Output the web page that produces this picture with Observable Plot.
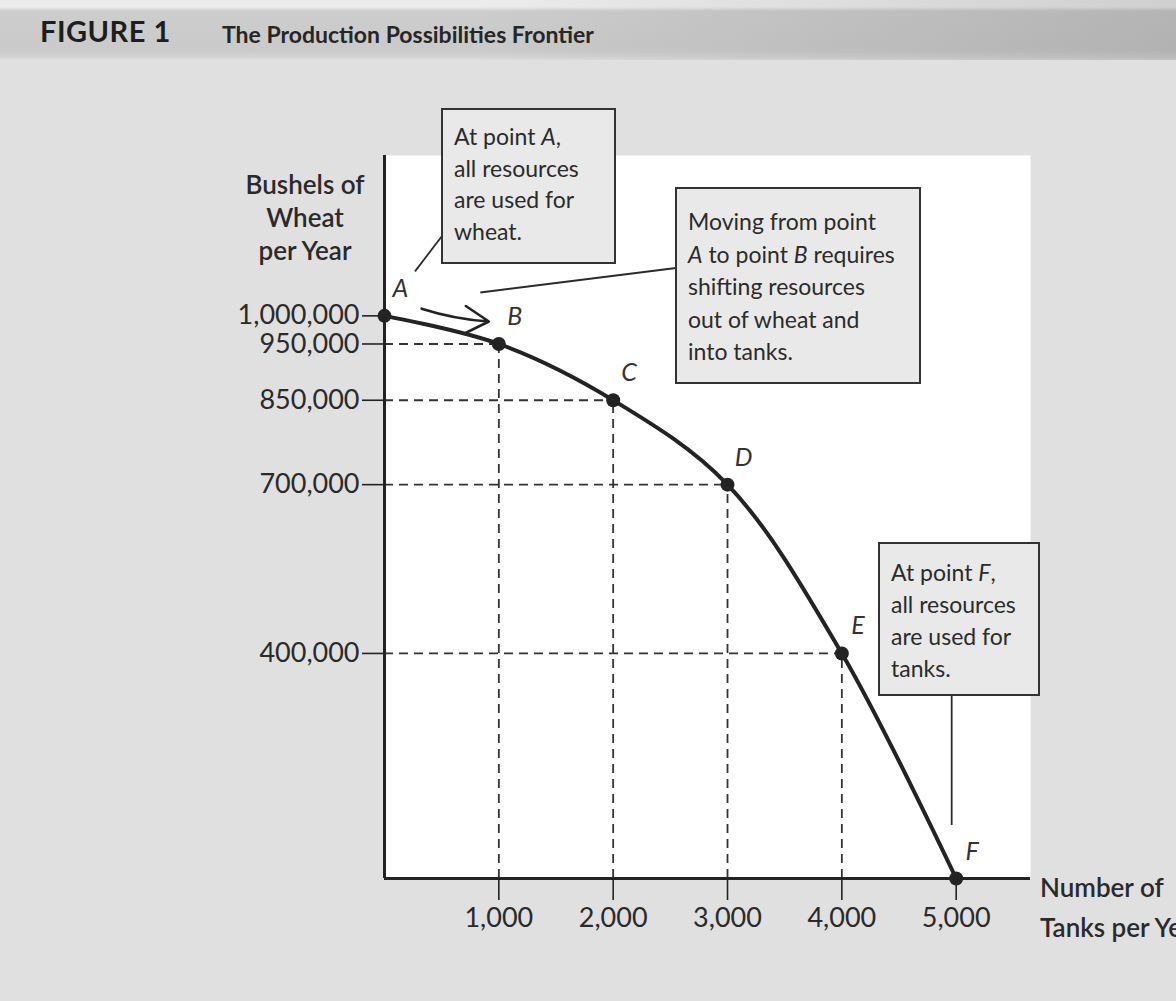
<!DOCTYPE html>
<html><head><meta charset="utf-8">
<script src="https://cdn.jsdelivr.net/npm/d3@7"></script>
<script src="https://cdn.jsdelivr.net/npm/@observablehq/plot@0.6"></script>
<style>
html,body{margin:0;padding:0;width:1176px;height:1001px;overflow:hidden;background:#e0e0e0;font-family:Lato,"Open Sans",sans-serif;}
#title{position:relative;height:60px;width:1176px;
  background:
    linear-gradient(to right, rgba(0,0,0,0) 0%, rgba(0,0,0,0) 40%, rgba(0,0,0,0.12) 100%),
    linear-gradient(to bottom, #ececec 0px, #ececec 7px, #cdcdcd 11px, #cacaca 50px, #d6d6d6 58px, #dedede 60px);}
#title .fig{position:absolute;left:40px;top:13px;font-size:29px;font-weight:700;color:#1e1e1e;letter-spacing:0.5px;}
#title .name{position:absolute;left:222px;top:20px;font-size:23px;font-weight:700;color:#262626;}
#chart svg{display:block;}
</style>
</head><body>
<div id="title"><span class="fig">FIGURE 1</span><span class="name">The Production Possibilities Frontier</span></div>
<div id="chart"></div>
<script>
// ---- data ----
const pointLabels = ["A", "B", "C", "D", "E", "F"];
const tanks = [0, 1000, 2000, 3000, 4000, 5000];
const wheat = [1000000, 950000, 850000, 700000, 400000, 0];
const xTicks = [1000, 2000, 3000, 4000, 5000];
const yTicks = [400000, 700000, 850000, 950000, 1000000];
const yAxisTitle = ["Bushels of", "Wheat", "per Year"];
const xAxisTitle = ["Number of", "Tanks per Year"];
const noteA = [[["At point ", 0], ["A", 1], [",", 0]], "all resources", "are used for", "wheat."];
const noteAB = ["Moving from point", [["A", 1], [" to point ", 0], ["B", 1], [" requires", 0]], "shifting resources", "out of wheat and", "into tanks."];
const noteF = [[["At point ", 0], ["F", 1], [",", 0]], "all resources", "are used for", "tanks."];

const pts = pointLabels.map((label, i) => ({label, tanks: tanks[i], wheat: wheat[i]}));
const interior = pts.filter(d => d.tanks > 0 && d.wheat > 0);
const moveAB = [{x1: tanks[0], y1: wheat[0], x2: tanks[1], y2: wheat[1]}];

const ink = "#232323";
const fmt = d3.format(",");

const chart = Plot.plot({
  width: 1176,
  height: 941,
  marginLeft: 384,
  marginRight: 146,
  marginTop: 95,
  marginBottom: 123,
  x: {domain: [0, 5650]},
  y: {domain: [0, 1285000]},
  style: {background: "transparent", fontFamily: "Lato, 'Open Sans', sans-serif", color: ink},
  marks: [
    Plot.frame({fill: "white", stroke: null}),
    Plot.ruleY(interior, {y: "wheat", x1: 0, x2: "tanks", stroke: "#333", strokeWidth: 1.8, strokeDasharray: "9,6"}),
    Plot.ruleX(interior, {x: "tanks", y1: 0, y2: "wheat", stroke: "#333", strokeWidth: 1.8, strokeDasharray: "9,6"}),
    Plot.axisX({ticks: xTicks, tickSize: 22, tickPadding: 7, fontSize: 27, tickFormat: fmt, label: null, strokeWidth: 1.6, fill: "#2a2a2a"}),
    Plot.axisY({ticks: yTicks, tickSize: 22, tickPadding: 3, fontSize: 27, tickFormat: fmt, label: null, strokeWidth: 1.6, fill: "#2a2a2a"}),
    Plot.ruleY([0], {stroke: ink, strokeWidth: 3}),
    Plot.ruleX([0], {stroke: ink, strokeWidth: 3}),
    Plot.line(pts, {x: "tanks", y: "wheat", curve: "catmull-rom", stroke: ink, strokeWidth: 4}),
    Plot.dot(pts, {x: "tanks", y: "wheat", r: 7, fill: ink, stroke: null}),
    Plot.text(pts, {x: "tanks", y: "wheat", text: "label", dx: 16, dy: -27, fontSize: 25, fontStyle: "italic", fill: "#333"}),
    Plot.arrow(moveAB, {x1: "x1", y1: "y1", x2: "x2", y2: "y2", dy: -22, insetStart: 40, insetEnd: 10, bend: -12, stroke: ink, strokeWidth: 2.6, headLength: 16})
  ]
});

document.getElementById("chart").append(chart);

// ---- annotations (callout boxes, axis titles) ----
const svg = d3.select(chart);
const sx = chart.scale("x").apply, sy = chart.scale("y").apply;
const g = svg.append("g").attr("font-family", "Lato, 'Open Sans', sans-serif").attr("text-anchor", "start");

// axis titles
const yt = g.append("text").attr("text-anchor", "middle").attr("font-size", 26).attr("font-weight", 600).attr("fill", "#2a2a2a");
yAxisTitle.forEach((t, i) => yt.append("tspan").attr("x", 305).attr("y", 134 + i * 33).text(t));
const xt = g.append("text").attr("text-anchor", "start").attr("font-size", 26).attr("font-weight", 600).attr("fill", "#2a2a2a");
xAxisTitle.forEach((t, i) => xt.append("tspan").attr("x", 1040).attr("y", 837 + i * 40).text(t));

function callout(box, lines, lineGap, firstLine, leader) {
  const [x, y, w, h] = box;
  g.append("line").attr("x1", leader[0]).attr("y1", leader[1]).attr("x2", leader[2]).attr("y2", leader[3])
    .attr("stroke", "#2a2a2a").attr("stroke-width", 1.8);
  g.append("rect").attr("x", x).attr("y", y).attr("width", w).attr("height", h)
    .attr("fill", "#e9e9e9").attr("stroke", "#333").attr("stroke-width", 2);
  const t = g.append("text").attr("font-size", 23).attr("fill", "#2b2b2b").attr("text-anchor", "start");
  lines.forEach((line, i) => {
    const yy = y + firstLine + i * lineGap;
    if (Array.isArray(line)) {
      line.forEach(([s, it], j) => {
        const ts = t.append("tspan").attr("font-style", it ? "italic" : "normal").text(s);
        if (j === 0) ts.attr("x", x + 12).attr("y", yy);
      });
    } else {
      t.append("tspan").attr("x", x + 12).attr("y", yy).text(line);
    }
  });
}

const ax = sx(tanks[0]), ay = sy(wheat[0]);
const bx = sx(tanks[1]), by = sy(wheat[1]);
const fx = sx(tanks[5]), fy = sy(wheat[5]);

callout([442, 49, 173, 154], noteA, 31.5, 36, [442, 176, ax + 31, ay - 44]);
callout([676, 128, 244, 195], noteAB, 32.5, 42, [676, 208, bx - 18, by - 51]);
callout([879, 483, 160, 152], noteF, 32, 38, [fx - 4, 635, fx - 4, fy - 53]);
</script>
</body></html>
